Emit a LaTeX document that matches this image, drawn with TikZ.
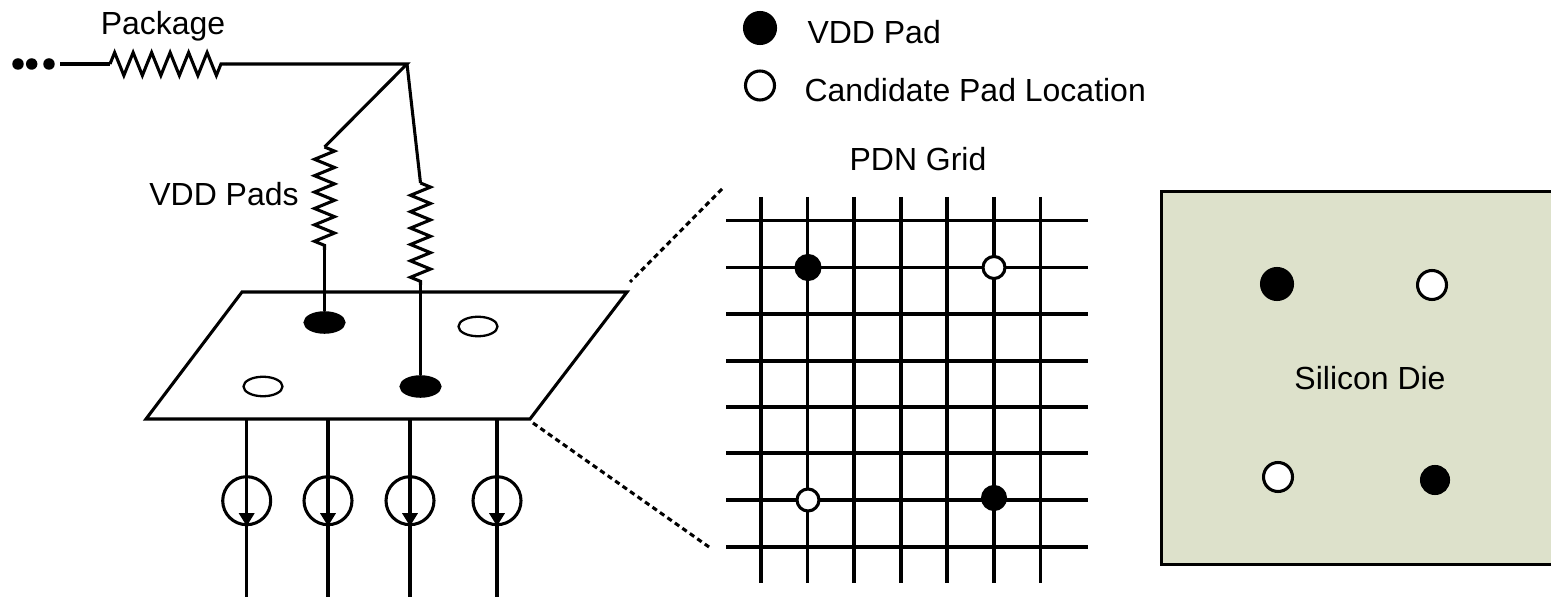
\documentclass[tikz,border=0pt]{standalone}
\usepackage{fontspec}
\setmainfont{Liberation Sans}
\usetikzlibrary{arrows.meta,decorations.pathmorphing,shapes.geometric}
\definecolor{diecol}{HTML}{DDE1CB}

\begin{document}
\begin{tikzpicture}[x=0.02cm,y=-0.02cm,line width=1.75pt,
   every node/.style={font=\fontsize{18.2}{20}\selectfont,inner sep=0pt},
   pd/.style={circle,draw,fill=black,minimum size=#1},
   cd/.style={circle,draw,fill=white,minimum size=#1},
   pdl/.style={ellipse,draw,fill=black,minimum width=7.8mm,minimum height=3.9mm},
   cdl/.style={ellipse,draw,fill=white,line width=1.3pt,minimum width=7.8mm,minimum height=3.9mm},
   dt/.style={circle,fill=black,minimum size=2.3mm},
   src/.style={circle,draw,minimum size=9.6mm},
   res/.style 2 args={decorate,decoration={zigzag,amplitude=#1,segment length=#2}},
   ds/.style={dash pattern=on 3pt off 2.2pt}]
  \useasboundingbox (0,0) rectangle (1551,597);
  \node[dt] (d1) at (18,64) {};
  \node[dt] (d2) at (31.7,64) {};
  \node[dt] (d3) at (49,64) {};
  \node (pkg) at (163,26) {Package};
  \coordinate (w) at (60,64);
  \coordinate (pl) at (110,64);
  \coordinate (pr) at (226,64);
  \coordinate (j) at (407,64);
  \coordinate (ra) at (324.5,147);
  \coordinate (rb) at (324.5,250);
  \coordinate (rc) at (420.5,183);
  \coordinate (rd) at (420.5,285);
  \node (vp) at (224,194) {VDD Pads};
  \node[pdl] (pa) at (324.5,322.5) {};
  \node[pdl] (pb) at (420.5,386.5) {};
  \node[cdl] (ca) at (478,326.5) {};
  \node[cdl] (cb) at (263,386.5) {};
  \draw (w)--(pl);
  \draw[res={2.3mm}{3.7mm}] (pl)--(pr);
  \draw (pr)--(j)--(ra);
  \draw[res={2mm}{3.28mm}] (ra)--(rb);
  \draw (rb)--(pa);
  \draw (j)--(rc);
  \draw[res={2mm}{3.28mm}] (rc)--(rd);
  \draw (rd)--(pb);
  \coordinate (tl) at (242,292);
  \coordinate (tr) at (627,292);
  \coordinate (br) at (530,419);
  \coordinate (bl) at (146,419);
  \draw (tl)--(tr)--(br)--(bl)--cycle;
  \foreach \n/\x in {1/246.7,2/328,3/410,4/497}{
    \node[src] (s\n) at (\x,500.7) {};
    \coordinate (u\n) at (\x,419);
    \coordinate (v\n) at (\x,597);
    \draw[-{Triangle[length=2.6mm,width=3mm]}] (u\n)--(s\n.south);
    \draw (s\n.south)--(v\n);
  }
  \coordinate (za) at (722,189);
  \coordinate (zb) at (630,282);
  \coordinate (zc) at (533,423);
  \coordinate (zd) at (709,547);
  \draw[ds] (za)--(zb);
  \draw[ds] (zc)--(zd);
  \node[pd=6.2mm] (la) at (760,28) {};
  \node[cd=5.8mm] (lb) at (760,85.5) {};
  \node[anchor=west] (ta) at (806,32) {VDD Pad};
  \node[anchor=west] (tb) at (803,90) {Candidate Pad Location};
  \node (tg) at (918,159) {PDN Grid};
  \foreach \x in {761,807.5,854,901,947,994,1040.5}
    \draw (\x,197)--(\x,583);
  \foreach \y in {220.7,267.5,314,361,407,453,500,547}
    \draw (726,\y)--(1088,\y);
  \node[pd=4.8mm] (ga) at (808,267.5) {};
  \node[cd=4.4mm] (gb) at (994,267.5) {};
  \node[cd=4.4mm] (gc) at (808,500) {};
  \node[pd=4.6mm] (gd) at (994,498) {};
  \node[draw,fill=diecol,anchor=north west,minimum width=8cm,minimum height=7.46cm] (die) at (1160,190) {};
  \node[pd=6.2mm] (da) at (1277,284) {};
  \node[cd=5.8mm] (db) at (1432,285) {};
  \node[cd=5.8mm] (dc) at (1278,477) {};
  \node[pd=5.4mm] (dd) at (1435,480) {};
  \node (sd) at (1370,378) {Silicon Die};
\end{tikzpicture}
\end{document}
